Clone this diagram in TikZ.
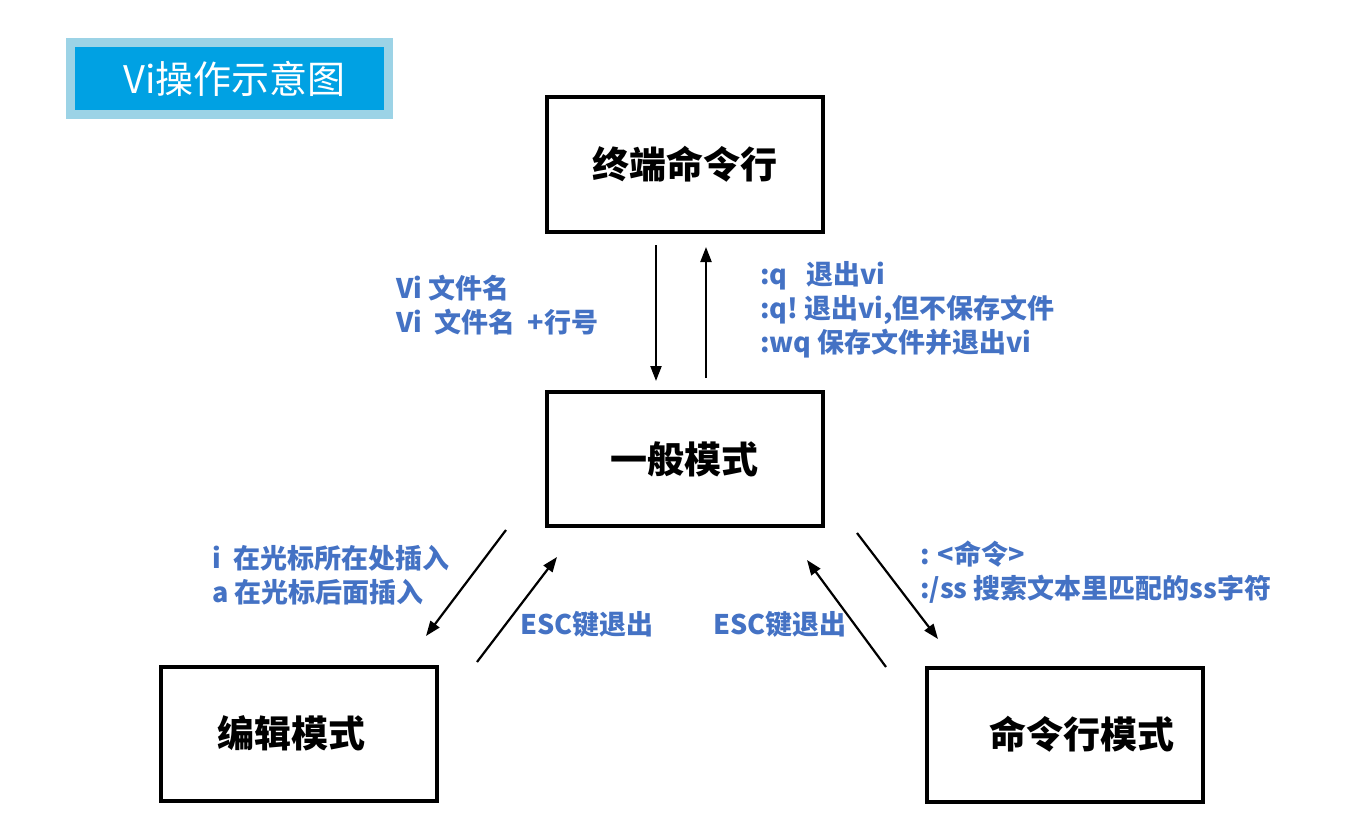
\documentclass[tikz,border=0pt]{standalone}
\usepackage{fontspec}
\setmainfont{Noto Sans CJK SC}
\usepackage{xcolor}
\usetikzlibrary{arrows.meta}
\definecolor{titleblue}{HTML}{00A1E3}
\definecolor{titleedge}{HTML}{9CD3E6}
\definecolor{labelblue}{HTML}{4472C4}
\tikzset{
  mode/.style={ % image of one vi mode
    draw, rectangle, line width=4pt,
    minimum width=276pt, minimum height=134pt,
    inner sep=0pt, text=black,
    font=\fontsize{37}{40}\selectfont\bfseries
  },
  title/.style={ % the heading box in the corner
    draw=titleedge, fill=titleblue, line width=9pt,
    minimum width=318pt, minimum height=72pt,
    text=white, font=\fontsize{38}{40}\selectfont
  },
  cmd/.style={ % blue key text beside the arrows
    anchor=west, align=left, inner sep=0pt, text=labelblue,
    font=\fontsize{27}{34}\selectfont\bfseries
  },
  modearrow/.style={
    -{Triangle[length=15pt,width=11pt]}, line width=2.2pt
  }
}
\begin{document}
\begin{tikzpicture}[x=1pt,y=-1pt]
  \useasboundingbox (0,0) rectangle (1368,824);

  \node[title] (head) at (229.5,78.5) {\hspace*{10pt}Vi操作示意图};

  \node[mode] (shell) at (684.5,164.5) {\raisebox{-5pt}{终端命令行}};
  \node[mode] (normal) at (684.5,459) {一般模式};
  \node[mode] (insert) at (298.5,733.5) {\hspace*{-14pt}\raisebox{-6pt}{编辑模式}};
  \node[mode] (cmdline) at (1065,734.5) {\hspace*{34pt}\raisebox{-6pt}{命令行模式}};

  % free ends of the arrows
  \coordinate (shell_out) at (656,245);
  \coordinate (normal_in) at (656,381);
  \coordinate (normal_out) at (706,378);
  \coordinate (shell_in) at (706,247);
  \coordinate (ins_from) at (506,530);
  \coordinate (ins_to) at (426,636);
  \coordinate (ins_back) at (477,662);
  \coordinate (ins_home) at (557,557);
  \coordinate (cmd_from) at (857,533);
  \coordinate (cmd_to) at (938,639);
  \coordinate (cmd_back) at (886,667);
  \coordinate (cmd_home) at (807,560);

  \draw[modearrow] (shell_out) -- (normal_in);
  \draw[modearrow] (normal_out) -- (shell_in);
  \draw[modearrow] (ins_from) -- (ins_to);
  \draw[modearrow] (ins_back) -- (ins_home);
  \draw[modearrow] (cmd_from) -- (cmd_to);
  \draw[modearrow] (cmd_back) -- (cmd_home);

  \node[cmd] (open_text) at (396,305) {Vi 文件名\\Vi\ \ 文件名\ \ +行号};
  \node[cmd] (quit_text) at (760,310) {:q\ \ \ 退出vi\\:q!\ 退出vi,但不保存文件\\:wq 保存文件并退出vi};
  \node[cmd] (ins_text) at (212,575) {i\ \ 在光标所在处插入\\a 在光标后面插入};
  \node[cmd] (esc_left) at (520,624) {ESC键退出};
  \node[cmd] (esc_right) at (713,624) {ESC键退出};
  \node[cmd] (cmd_text) at (920,572) {: <命令>\\:/ss 搜索文本里匹配的ss字符};
\end{tikzpicture}
\end{document}
